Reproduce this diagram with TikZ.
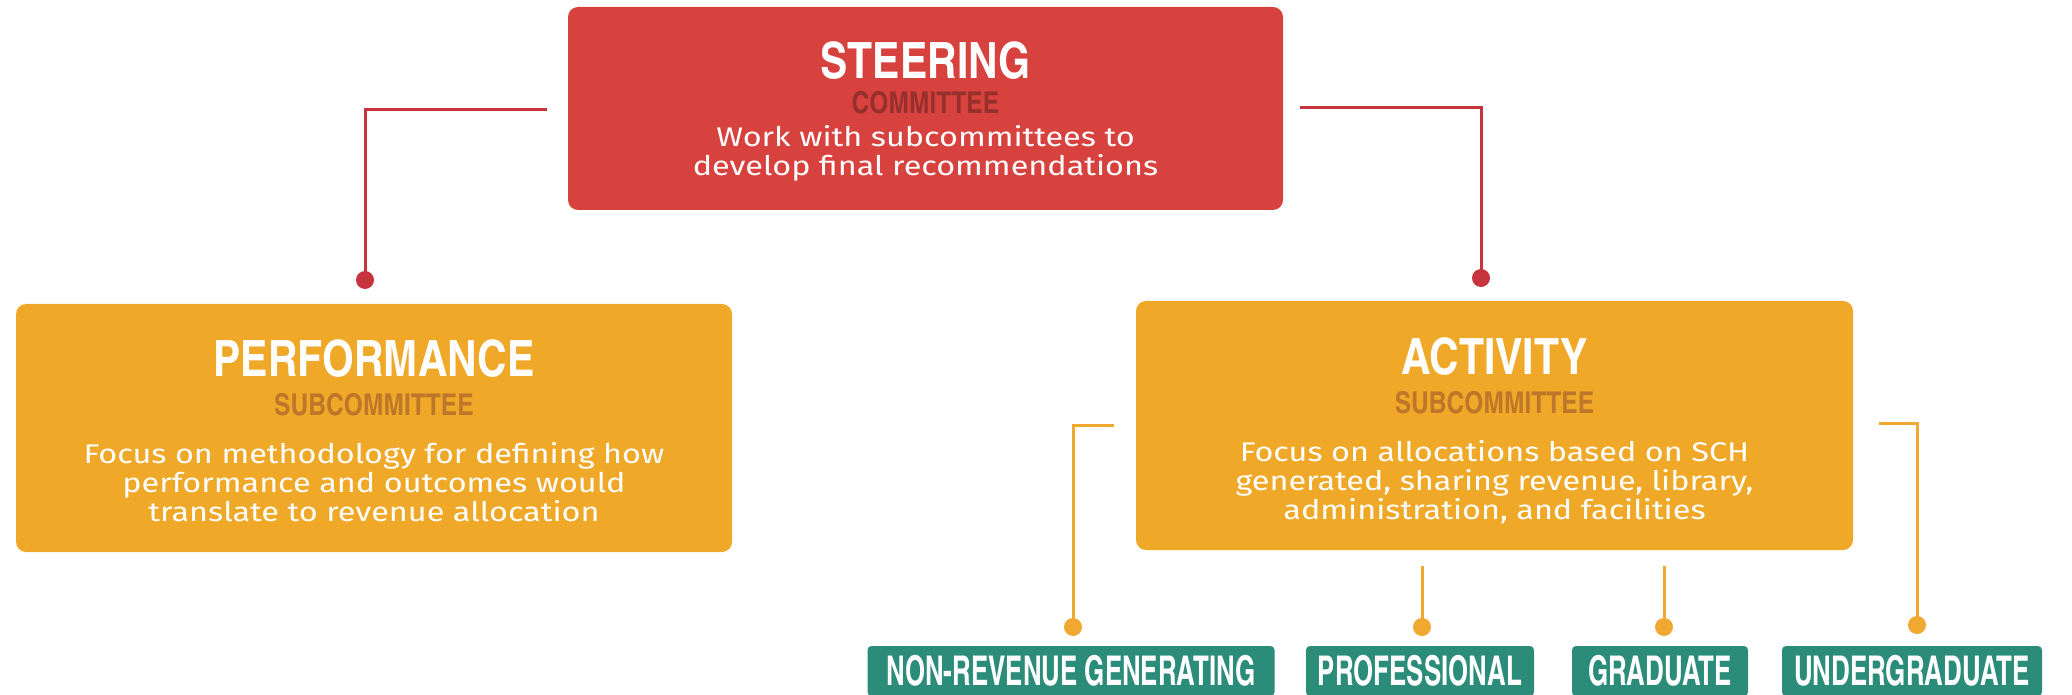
\documentclass[tikz,border=0pt]{standalone}
\usepackage{fontspec}
\setmainfont{Fira Sans}[FakeStretch=1.2]
\newfontfamily\headfont{texgyreheroscn-bold}[Extension=.otf,FakeStretch=1.0]
\newfontfamily\groupfont{texgyreheroscn-bold}[Extension=.otf,FakeStretch=0.77]
\usepackage{tikz}
\usetikzlibrary{positioning}

\definecolor{steerred}{RGB}{216,66,62}
\definecolor{steersub}{RGB}{150,48,44}
\definecolor{subbox}{RGB}{239,168,40}
\definecolor{subsub}{RGB}{190,118,42}
\definecolor{linkred}{RGB}{200,52,62}
\definecolor{linkorange}{RGB}{240,168,48}
\definecolor{groupgreen}{RGB}{43,140,122}

\tikzset{
  bigbox/.style={rounded corners=5pt, inner sep=0pt},
  titletext/.style={font=\headfont\fontsize{25}{25}\selectfont, text=white, inner sep=0pt},
  subtext/.style={font=\headfont\fontsize{15}{15}\selectfont, inner sep=0pt},
  desctext/.style={font=\fontsize{13.5}{14.5}\selectfont, text=white, align=center, inner sep=0pt},
  groupbox/.style={fill=groupgreen, rounded corners=2pt, text=white, minimum height=25pt,
    font=\groupfont\fontsize{20.5}{20.5}\selectfont, inner sep=0pt},
  redlink/.style={draw=linkred, line width=1.5pt},
  orangelink/.style={draw=linkorange, line width=1.5pt},
  reddot/.style={circle, fill=linkred, minimum size=9pt, inner sep=0pt},
  orangedot/.style={circle, fill=linkorange, minimum size=9pt, inner sep=0pt}
}

\begin{document}
\begin{tikzpicture}[x=0.5pt,y=-0.5pt]
  \useasboundingbox (0,0) rectangle (2072,695);

  % steering committee
  \node[bigbox, fill=steerred, minimum width=357.5pt, minimum height=101.5pt] (steer) at (925.5,108.5) {};
  \node[titletext] (steertitle) at (925.5,61) {STEERING};
  \node[subtext, text=steersub] (steersub) at (925.5,103) {COMMITTEE};
  \node[desctext] (steerdesc) at (925.5,153.5) {Work with subcommittees to\\develop final recommendations};

  % performance subcommittee
  \node[bigbox, fill=subbox, minimum width=358pt, minimum height=124pt] (perf) at (374,428) {};
  \node[titletext] (perftitle) at (374,359) {PERFORMANCE};
  \node[subtext, text=subsub] (perfsub) at (374,405) {SUBCOMMITTEE};
  \node[desctext] (perfdesc) at (374,482) {Focus on methodology for defining how\\performance and outcomes would\\translate to revenue allocation};

  % activity subcommittee
  \node[bigbox, fill=subbox, minimum width=358.5pt, minimum height=124.5pt] (act) at (1494.5,425.5) {};
  \node[titletext] (acttitle) at (1494.5,357) {ACTIVITY};
  \node[subtext, text=subsub] (actsub) at (1494.5,403) {SUBCOMMITTEE};
  \node[desctext] (actdesc) at (1494.5,482) {Focus on allocations based on SCH\\generated, sharing revenue, library,\\administration, and facilities};

  % groups
  \node[groupbox, minimum width=203.5pt] (nonrev) at (1071,671) {NON-REVENUE GENERATING};
  \node[groupbox, minimum width=114pt] (prof) at (1420,671) {PROFESSIONAL};
  \node[groupbox, minimum width=88pt] (grad) at (1660,671) {GRADUATE};
  \node[groupbox, minimum width=130pt] (under) at (1912,671) {UNDERGRADUATE};

  % red connectors
  \coordinate (sl) at (547,110);
  \coordinate (sr) at (1300,108);
  \node[reddot] (dperf) at (365,280) {};
  \node[reddot] (dact) at (1481,278) {};
  \draw[redlink] (sl) -| (dperf.center);
  \draw[redlink] (sr) -| (dact.center);

  % orange connectors
  \coordinate (al) at (1114,425);
  \coordinate (am1) at (1422,566);
  \coordinate (am2) at (1664,566);
  \coordinate (ar) at (1879,423);
  \node[orangedot] (dnonrev) at (1073,627) {};
  \node[orangedot] (dprof) at (1422,627) {};
  \node[orangedot] (dgrad) at (1664,627) {};
  \node[orangedot] (dunder) at (1917,625) {};
  \draw[orangelink] (al) -| (dnonrev.center);
  \draw[orangelink] (am1) -- (dprof.center);
  \draw[orangelink] (am2) -- (dgrad.center);
  \draw[orangelink] (ar) -| (dunder.center);
\end{tikzpicture}
\end{document}
